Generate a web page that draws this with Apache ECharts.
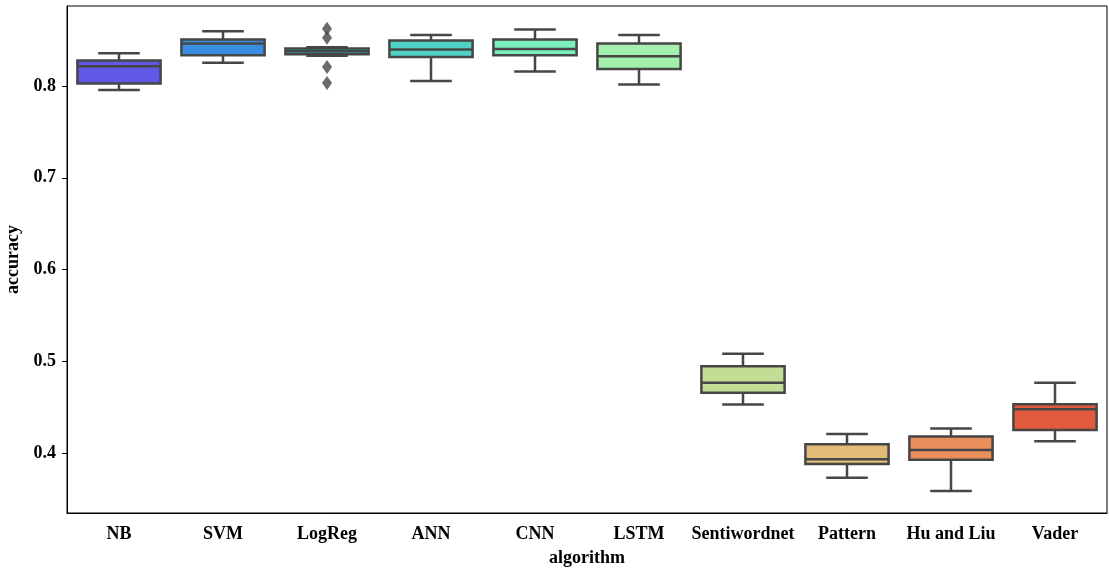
<!DOCTYPE html>
<html>
<head>
<meta charset="utf-8">
<script src="https://cdn.jsdelivr.net/npm/echarts@6/dist/echarts.min.js"></script>
<style>
  html, body { margin: 0; padding: 0; background: #fff; }
  #chart { width: 1109px; height: 570px; }
</style>
</head>
<body>
<div id="chart"></div>
<script>
// Accuracy per algorithm: five-number summaries of each box
const categories = ['NB', 'SVM', 'LogReg', 'ANN', 'CNN', 'LSTM', 'Sentiwordnet', 'Pattern', 'Hu and Liu', 'Vader'];
const whiskerLow  = [0.7956, 0.8251, 0.8328, 0.8054, 0.8157, 0.8015, 0.4531, 0.3735, 0.3590, 0.4131];
const quartile1   = [0.8026, 0.8335, 0.8345, 0.8316, 0.8335, 0.8185, 0.4658, 0.3884, 0.3931, 0.4255];
const medians     = [0.8215, 0.8462, 0.8376, 0.8397, 0.8403, 0.8324, 0.4767, 0.3935, 0.4037, 0.4480];
const quartile3   = [0.8277, 0.8506, 0.8408, 0.8495, 0.8506, 0.8462, 0.4948, 0.4098, 0.4182, 0.4534];
const whiskerHigh = [0.8356, 0.8596, 0.8422, 0.8553, 0.8615, 0.8553, 0.5083, 0.4211, 0.4269, 0.4767];
// Points beyond the whiskers: [category index, accuracy]
const outliers = [[2, 0.8621], [2, 0.8523], [2, 0.8207], [2, 0.8033]];
const yTicks = [0.4, 0.5, 0.6, 0.7, 0.8];

const palette = ['#5f59e6', '#3a8ee0', '#27afcc', '#4fd2c5', '#7aeebd', '#a3f0ac', '#c3de94', '#e3bb79', '#e88f5c', '#e25b3e'];
const edge = '#464646';

const boxData = categories.map((c, i) => [i, whiskerLow[i], quartile1[i], medians[i], quartile3[i], whiskerHigh[i]]);

function renderBox(params, api) {
  const i = api.value(0);
  const band = api.size([1, 0])[0];
  const half = band * 0.8 / 2;
  const cap = half / 2;
  const pLow = api.coord([i, api.value(1)]);
  const pQ1 = api.coord([i, api.value(2)]);
  const pMed = api.coord([i, api.value(3)]);
  const pQ3 = api.coord([i, api.value(4)]);
  const pHigh = api.coord([i, api.value(5)]);
  const x = pMed[0];
  const lineStyle = { stroke: edge, lineWidth: 2.5, fill: null };
  return {
    type: 'group',
    children: [
      { type: 'line', shape: { x1: x, y1: pQ3[1], x2: x, y2: pHigh[1] }, style: lineStyle },
      { type: 'line', shape: { x1: x, y1: pQ1[1], x2: x, y2: pLow[1] }, style: lineStyle },
      { type: 'line', shape: { x1: x - cap, y1: pHigh[1], x2: x + cap, y2: pHigh[1] }, style: lineStyle },
      { type: 'line', shape: { x1: x - cap, y1: pLow[1], x2: x + cap, y2: pLow[1] }, style: lineStyle },
      { type: 'rect', shape: { x: x - half, y: pQ3[1], width: half * 2, height: pQ1[1] - pQ3[1] },
        style: { fill: palette[i], stroke: edge, lineWidth: 2.5 } },
      { type: 'line', shape: { x1: x - half, y1: pMed[1], x2: x + half, y2: pMed[1] }, style: lineStyle }
    ]
  };
}

const font = 'Liberation Serif, Times New Roman, serif';
const chart = echarts.init(document.getElementById('chart'), null, { renderer: 'canvas' });
chart.setOption({
  animation: false,
  backgroundColor: '#fff',
  grid: { left: 67, right: 2, top: 6, bottom: 57, containLabel: false, outerBoundsMode: 'none',
    show: true, borderColor: '#000', borderWidth: 1, backgroundColor: 'transparent' },
  xAxis: {
    type: 'category',
    data: categories,
    name: 'algorithm',
    nameLocation: 'middle',
    nameGap: 36,
    nameTextStyle: { fontFamily: font, fontWeight: 'bold', fontSize: 18, color: '#000' },
    axisLine: { lineStyle: { color: '#000', width: 1 } },
    axisTick: { alignWithLabel: true, length: 5, lineStyle: { color: '#000' } },
    axisLabel: { fontFamily: font, fontWeight: 'bold', fontSize: 18, color: '#000', margin: 12, interval: 0 },
    splitLine: { show: false }
  },
  yAxis: {
    type: 'value',
    min: 0.335,
    max: 0.887,
    name: 'accuracy',
    nameLocation: 'middle',
    nameGap: 37,
    nameTextStyle: { fontFamily: font, fontWeight: 'bold', fontSize: 18, color: '#000' },
    axisLine: { show: true, lineStyle: { color: '#000', width: 1 } },
    axisTick: { show: true, length: 5, customValues: yTicks, lineStyle: { color: '#000' } },
    axisLabel: { fontFamily: font, fontWeight: 'bold', fontSize: 18, color: '#000', margin: 11, customValues: yTicks,
      formatter: v => v.toFixed(1) },
    splitLine: { show: false }
  },
  series: [
    {
      type: 'custom',
      renderItem: renderBox,
      encode: { x: 0, y: [1, 2, 3, 4, 5] },
      data: boxData,
      z: 2
    },
    {
      type: 'scatter',
      data: outliers,
      symbol: 'diamond',
      symbolSize: [10, 14],
      itemStyle: { color: edge },
      z: 3
    }
  ]
});
</script>
</body>
</html>
